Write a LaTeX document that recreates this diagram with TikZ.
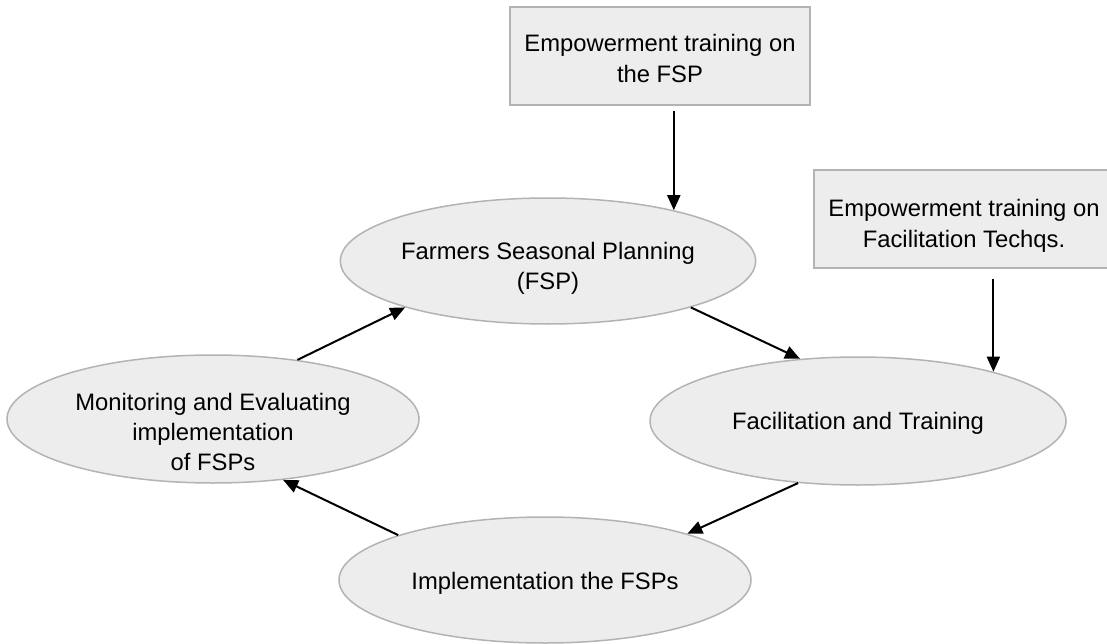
\documentclass[tikz,border=0pt]{standalone}
\usepackage{fontspec}
\setmainfont{Liberation Sans}
\usetikzlibrary{arrows.meta,shapes.geometric,positioning}
\definecolor{bubblefill}{HTML}{EDEDED}
\definecolor{bubbleline}{HTML}{B3B3B3}
% text block whose centre sits #1 below the node centre
\newcommand{\droptext}[2]{\raisebox{-\dimexpr#1+6pt\relax}[0pt][0pt]{\begin{tabular}{@{}c@{}}#2\end{tabular}}}

\begin{document}
\begin{tikzpicture}[x=1pt,y=-1pt,
    bubble/.style={ellipse,draw=bubbleline,fill=bubblefill,line width=1.5pt,inner sep=0pt,font=\fontsize{23.8}{30}\selectfont},
    trainbox/.style={rectangle,draw=bubbleline,fill=bubblefill,line width=1.5pt,inner sep=0pt,minimum width=300pt,minimum height=98pt,font=\fontsize{23.8}{31}\selectfont},
    arr/.style={-{Triangle[length=15pt,width=13pt]},line width=2pt}]
       \useasboundingbox (0,0) rectangle (1107,644);
       % training boxes
       \node[trainbox] (box1) at (660,56) {\droptext{5pt}{Empowerment training on\\the FSP}};
       \node[trainbox] (box2) at (964,219) {\droptext{7pt}{Empowerment training on\\Facilitation Techqs.}};
       % cycle
       \node[bubble,minimum width=412pt,minimum height=126pt] (fsp) at (548,261) {\droptext{8pt}{Farmers Seasonal Planning\\(FSP)}};
       \node[bubble,minimum width=416pt,minimum height=128pt] (fac) at (858,421) {\droptext{3pt}{Facilitation and Training}};
       \node[bubble,minimum width=412pt,minimum height=128pt] (mon) at (213,419) {\droptext{16pt}{Monitoring and Evaluating\\implementation\\of FSPs}};
       \node[bubble,minimum width=412pt,minimum height=126pt] (impl) at (545,580) {\droptext{4pt}{Implementation the FSPs}};
       \draw[arr] ([yshift=-5pt]box1.south -| fsp.22) -- (fsp.22);
       \draw[arr] ([yshift=-10pt]box2.south -| fac.20) -- (fac.20);
       \draw[arr] (fsp.-18) -- (fac.133);
       \draw[arr] (fac.-134) -- (impl.18);
       \draw[arr] (impl.163) -- (mon.-41);
       \draw[arr] (mon.35) -- (fsp.-162);
     \end{tikzpicture}
\end{document}
